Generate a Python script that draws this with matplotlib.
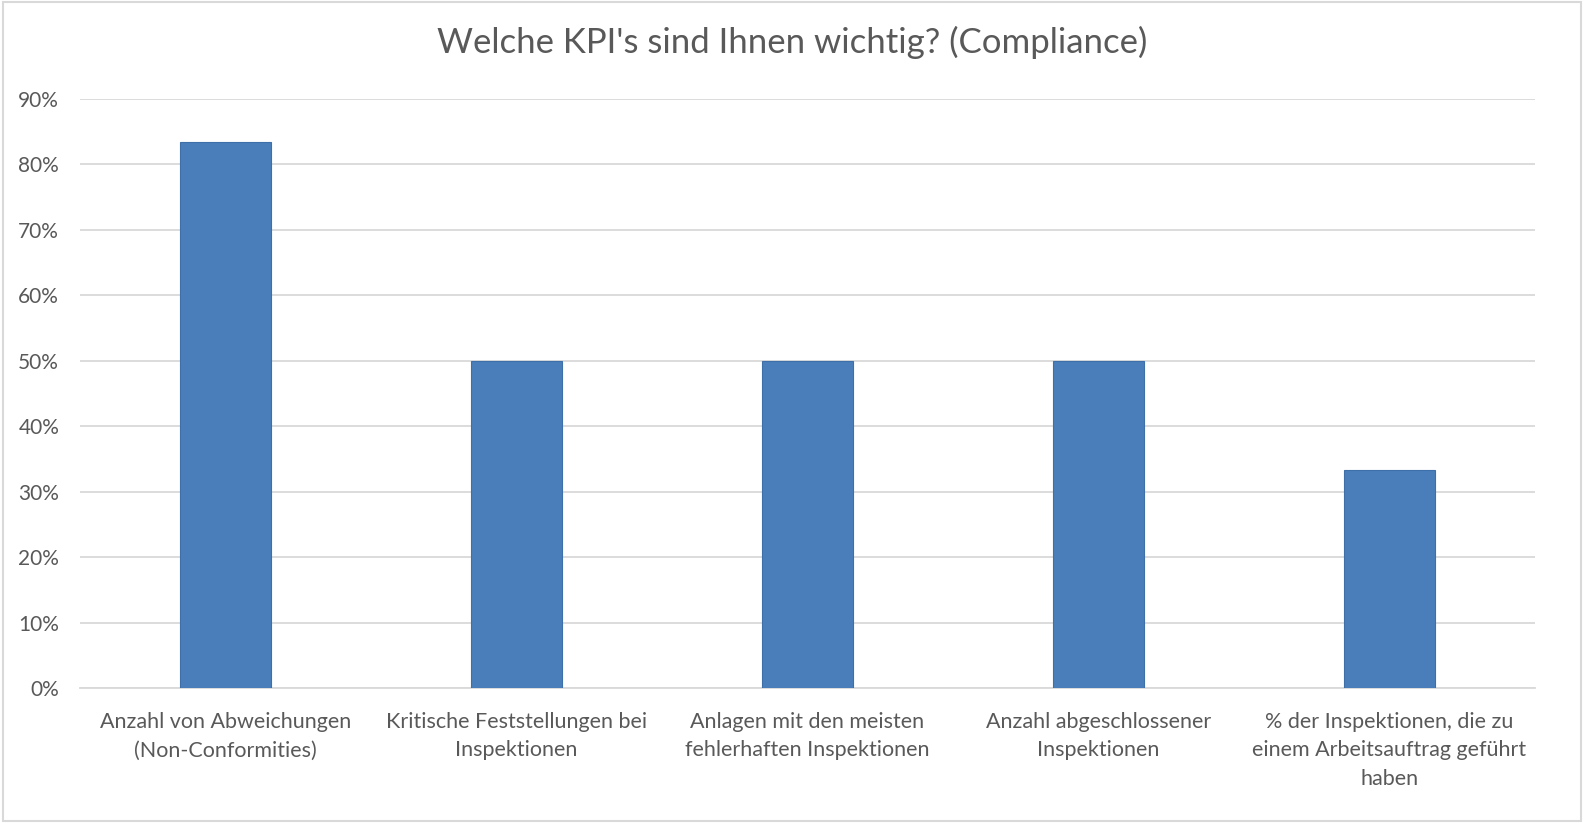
import matplotlib
matplotlib.use('Agg')
import matplotlib.pyplot as plt
from matplotlib.ticker import PercentFormatter

categories = [
    'Anzahl von Abweichungen\n(Non-Conformities)',
    'Kritische Feststellungen bei\nInspektionen',
    'Anlagen mit den meisten\nfehlerhaften Inspektionen',
    'Anzahl abgeschlossener\nInspektionen',
    '% der Inspektionen, die zu\neinem Arbeitsauftrag geführt\nhaben',
]
values = [0.8333, 0.5, 0.5, 0.5, 0.3333]
yticks = [0, 0.1, 0.2, 0.3, 0.4, 0.5, 0.6, 0.7, 0.8, 0.9]

plt.rcParams['font.family'] = ['Lato', 'DejaVu Sans']
text_color = '#595959'

fig = plt.figure(figsize=(15.84, 8.23), dpi=100)
ax = fig.add_axes([0.0505, 0.164, 0.9185, 0.716])

x = range(len(categories))
ax.bar(x, values, width=0.31, color='#4a7ebb', edgecolor='#3f6fa8',
       linewidth=0.8, zorder=3)

ax.set_xlim(-0.5, len(categories) - 0.5)
ax.set_ylim(0, 0.9)
ax.set_yticks(yticks)
ax.yaxis.set_major_formatter(PercentFormatter(1.0, decimals=0))
ax.set_xticks(list(x))
ax.set_xticklabels(categories, fontsize=15.5, color=text_color,
                   linespacing=1.55)
ax.tick_params(axis='y', labelsize=15, labelcolor=text_color,
               length=0, pad=15)
ax.tick_params(axis='x', length=0, pad=17)

ax.grid(axis='y', color='#d9d9d9', linewidth=1.3, zorder=0)
for side in ['top', 'right', 'left']:
    ax.spines[side].set_visible(False)
ax.spines['bottom'].set_color('#d9d9d9')
ax.spines['bottom'].set_linewidth(1.3)

fig.text(0.5, 0.948, "Welche KPI's sind Ihnen wichtig? (Compliance)",
         ha='center', va='center', fontsize=25, color=text_color)

# light frame around the whole chart
fig.patches.append(plt.Rectangle((0.002, 0.003), 0.996, 0.994,
                                 transform=fig.transFigure, fill=False,
                                 edgecolor='#d9d9d9', linewidth=1.5))

fig.savefig('out.png', dpi=100, facecolor='white')
